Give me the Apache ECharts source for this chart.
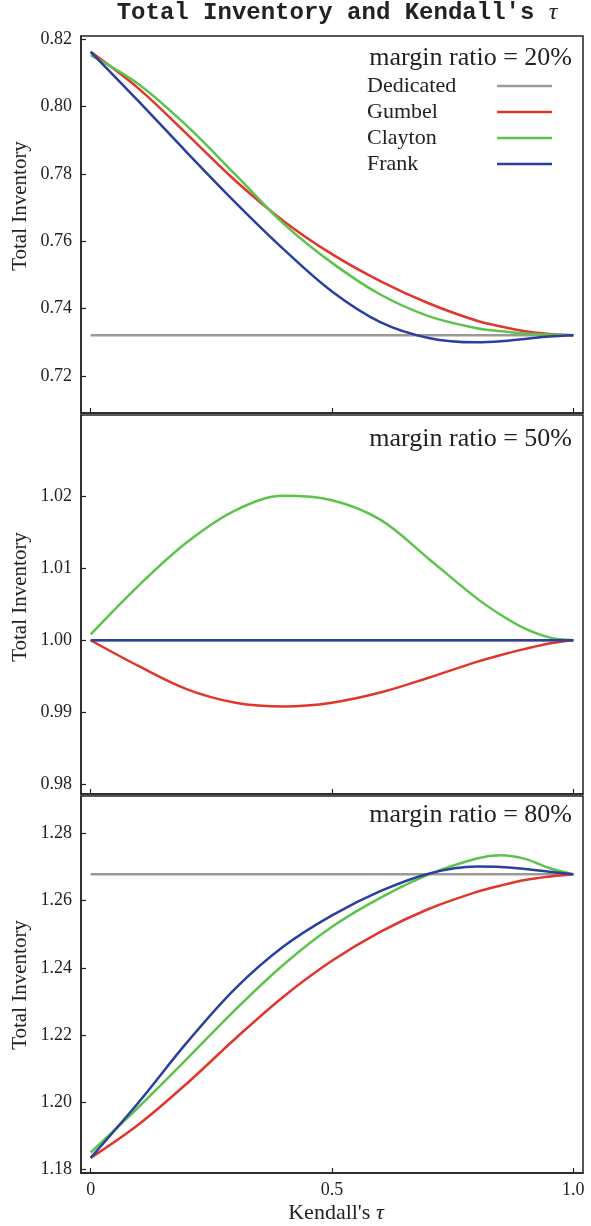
<!DOCTYPE html>
<html><head><meta charset="utf-8">
<script src="https://cdn.jsdelivr.net/npm/echarts@6/dist/echarts.min.js"></script>
<style>html,body{margin:0;padding:0;background:#fff}#c{width:591px;height:1226px}</style>
</head><body><div id="c"></div>
<script>
// Kendall's tau sample points
const tau = [0, 0.1, 0.2, 0.3, 0.4, 0.5, 0.6, 0.7, 0.8, 0.85, 0.9, 0.95, 1.0];
const xTicks = [0, 0.5, 1.0];

// margin ratio = 20%
const ded20     = [0.7321,0.7321,0.7321,0.7321,0.7321,0.7321,0.7321,0.7321,0.7321,0.7321,0.7321,0.7321,0.7321];
const gumbel20  = [0.8163,0.8053,0.7918,0.7780,0.7660,0.7562,0.7482,0.7416,0.7364,0.7347,0.7333,0.7325,0.7321];
const clayton20 = [0.8153,0.8066,0.7942,0.7798,0.7652,0.7536,0.7442,0.7378,0.7342,0.7333,0.7326,0.7323,0.7321];
const frank20   = [0.8163,0.8015,0.7863,0.7715,0.7576,0.7451,0.7360,0.7313,0.7300,0.7303,0.7310,0.7317,0.7321];
const yTicks20  = [0.72, 0.74, 0.76, 0.78, 0.80, 0.82];

// margin ratio = 50%
const ded50     = [1.0,1.0,1.0,1.0,1.0,1.0,1.0,1.0,1.0,1.0,1.0,1.0,1.0];
const gumbel50  = [1.0,0.9964,0.9932,0.99135,0.99083,0.99135,0.99275,0.9948,0.9970,0.99795,0.9988,0.99955,1.0];
const clayton50 = [1.0008,1.0076,1.0136,1.0180,1.0200,1.0194,1.0167,1.0113,1.0058,1.0035,1.0016,1.0004,1.0];
const frank50   = [1.0,1.0,1.0,1.0,1.0,1.0,1.0,1.0,1.0,1.0,1.0,1.0,1.0];
const yTicks50  = [0.98, 0.99, 1.00, 1.01, 1.02];

// margin ratio = 80%
const ded80     = [1.2678,1.2678,1.2678,1.2678,1.2678,1.2678,1.2678,1.2678,1.2678,1.2678,1.2678,1.2678,1.2678];
const gumbel80  = [1.1835,1.1935,1.2057,1.2190,1.2315,1.2421,1.2507,1.2575,1.2626,1.2645,1.2661,1.2671,1.2678];
const clayton80 = [1.1851,1.1987,1.2130,1.2276,1.2410,1.2522,1.2608,1.2677,1.2725,1.2735,1.2724,1.2697,1.2678];
const frank80   = [1.1835,1.2001,1.2179,1.2339,1.2464,1.2556,1.2628,1.2680,1.2701,1.2700,1.2694,1.2686,1.2678];
const yTicks80  = [1.18, 1.20, 1.22, 1.24, 1.26, 1.28];

const names = ['Dedicated', 'Gumbel', 'Clayton', 'Frank'];
const colors = ['#9a9a9a', '#e0362c', '#5cc34b', '#2b3f9e'];

const SERIF = '"Liberation Serif", "DejaVu Serif", serif';
const INK = '#222';

const panels = [
  { top: 36,  height: 377, min: 0.709,  max: 0.821,  ticks: yTicks20, data: [ded20, gumbel20, clayton20, frank20] },
  { top: 415, height: 379, min: 0.9787, max: 1.0312, ticks: yTicks50, data: [ded50, gumbel50, clayton50, frank50] },
  { top: 796, height: 377, min: 1.179,  max: 1.2911, ticks: yTicks80, data: [ded80, gumbel80, clayton80, frank80] }
];

const grid = [], xAxis = [], yAxis = [], series = [];
panels.forEach((p, i) => {
  grid.push({ left: 81, right: 8, top: p.top, height: p.height, show: true,
    borderColor: INK, borderWidth: 1.5, backgroundColor: 'transparent' });
  xAxis.push({ type: 'value', gridIndex: i, min: -0.02, max: 1.02,
    axisLine: { show: true, onZero: false, lineStyle: { color: INK, width: 1.5 } },
    axisTick: { show: true, inside: true, length: 5, customValues: xTicks, lineStyle: { color: INK, width: 1.2 } },
    axisLabel: { show: i === 2, customValues: xTicks, margin: 8, color: INK, fontFamily: SERIF, fontSize: 18,
      formatter: v => (v === 0 ? '0' : v.toFixed(1)) },
    splitLine: { show: false } });
  yAxis.push({ type: 'value', gridIndex: i, min: p.min, max: p.max,
    axisLine: { show: true, onZero: false, lineStyle: { color: INK, width: 1.5 } },
    axisTick: { show: true, inside: true, length: 5, customValues: p.ticks, lineStyle: { color: INK, width: 1.2 } },
    axisLabel: { show: true, customValues: p.ticks, margin: 9, color: INK, fontFamily: SERIF, fontSize: 18,
      formatter: v => v.toFixed(2) },
    splitLine: { show: false } });
  p.data.forEach((arr, k) => {
    series.push({ name: names[k], type: 'line', xAxisIndex: i, yAxisIndex: i,
      data: tau.map((t, j) => [t, arr[j]]), smooth: 0.35, showSymbol: false, symbol: 'none',
      lineStyle: { color: colors[k], width: 2.5 }, itemStyle: { color: colors[k] },
      z: 2 + k, silent: true, animation: false });
  });
});

const chart = echarts.init(document.getElementById('c'), null, { renderer: 'canvas' });
chart.setOption({
  animation: false,
  backgroundColor: '#fff',
  grid, xAxis, yAxis, series,
  legend: { orient: 'vertical', left: 367, top: 75, padding: 0, align: 'right', selectedMode: false,
    icon: 'rect', itemWidth: 55, itemHeight: 2.5, itemGap: 4, data: names,
    formatter: n => '{a|' + n + '}',
    textStyle: { fontFamily: SERIF, fontSize: 22, lineHeight: 22, color: INK,
      rich: { a: { width: 125, align: 'left', fontFamily: SERIF, fontSize: 22, lineHeight: 22, color: INK } } } },
  graphic: [
    { type: 'text', x: 337, y: 13, style: { text: "Total Inventory and Kendall's {t|τ}", fill: INK,
        fontFamily: '"Liberation Mono", "DejaVu Sans Mono", monospace', fontWeight: 'bold', fontSize: 24,
        textAlign: 'center', textVerticalAlign: 'middle', align: 'center', verticalAlign: 'middle',
        rich: { t: { fontFamily: SERIF, fontStyle: 'italic', fontWeight: 'normal', fontSize: 24, fill: INK } } } },
    { type: 'text', x: 572, y: 58, style: { text: 'margin ratio = 20%', fill: INK, fontFamily: SERIF, fontSize: 26,
        textAlign: 'right', textVerticalAlign: 'middle', align: 'right', verticalAlign: 'middle' } },
    { type: 'text', x: 572, y: 439, style: { text: 'margin ratio = 50%', fill: INK, fontFamily: SERIF, fontSize: 26,
        textAlign: 'right', textVerticalAlign: 'middle', align: 'right', verticalAlign: 'middle' } },
    { type: 'text', x: 572, y: 815, style: { text: 'margin ratio = 80%', fill: INK, fontFamily: SERIF, fontSize: 26,
        textAlign: 'right', textVerticalAlign: 'middle', align: 'right', verticalAlign: 'middle' } },
    { type: 'text', x: 20, y: 206, rotation: Math.PI / 2, style: { text: 'Total Inventory', fill: INK, fontFamily: SERIF, fontSize: 21,
        textAlign: 'center', textVerticalAlign: 'middle', align: 'center', verticalAlign: 'middle' } },
    { type: 'text', x: 20, y: 597, rotation: Math.PI / 2, style: { text: 'Total Inventory', fill: INK, fontFamily: SERIF, fontSize: 21,
        textAlign: 'center', textVerticalAlign: 'middle', align: 'center', verticalAlign: 'middle' } },
    { type: 'text', x: 20, y: 985, rotation: Math.PI / 2, style: { text: 'Total Inventory', fill: INK, fontFamily: SERIF, fontSize: 21,
        textAlign: 'center', textVerticalAlign: 'middle', align: 'center', verticalAlign: 'middle' } },
    { type: 'text', x: 336, y: 1213, style: { text: "Kendall's {t|τ}", fill: INK, fontFamily: SERIF, fontSize: 22,
        textAlign: 'center', textVerticalAlign: 'middle', align: 'center', verticalAlign: 'middle',
        rich: { t: { fontFamily: SERIF, fontStyle: 'italic', fontSize: 22, fill: INK } } } }
  ]
});
</script>
</body></html>
